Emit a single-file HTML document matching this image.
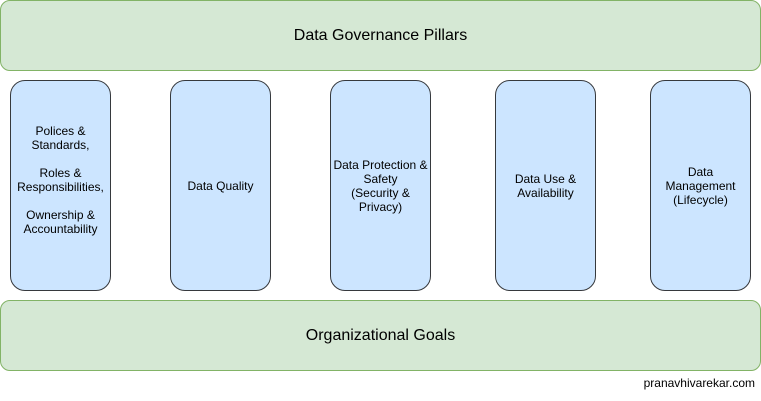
<!DOCTYPE html>
<html><head><style>
body{margin:0;width:761px;height:401px;background:#fff;position:relative;font-family:"Liberation Sans",Arial,sans-serif;overflow:hidden}
.b{position:absolute;box-sizing:border-box;display:flex;align-items:center;justify-content:center;text-align:center;color:#000}
.g{background:#d5e8d4;border:1px solid #82b366;border-radius:10px;font-size:16px}
.p{background:#cce5ff;border:1px solid #36393d;border-radius:15px;font-size:12px;line-height:14px;top:80px;height:211px;width:101px}
</style></head><body>
<div class="b g" style="left:0;top:0;width:761px;height:71px">Data Governance Pillars</div>
<div class="b p" style="left:10px;padding-bottom:12px">Polices &amp;<br>Standards,<br><br>Roles &amp;<br>Responsibilities,<br><br>Ownership &amp;<br>Accountability</div>
<div class="b p" style="left:170px">Data Quality</div>
<div class="b p" style="left:330px">Data Protection &amp;<br>Safety<br>(Security &amp;<br>Privacy)</div>
<div class="b p" style="left:495px">Data Use &amp;<br>Availability</div>
<div class="b p" style="left:650px">Data<br>Management<br>(Lifecycle)</div>
<div class="b g" style="left:0;top:300px;width:761px;height:71px">Organizational Goals</div>
<div style="position:absolute;right:6px;top:376px;font-size:12px">pranavhivarekar.com</div>
</body></html>
